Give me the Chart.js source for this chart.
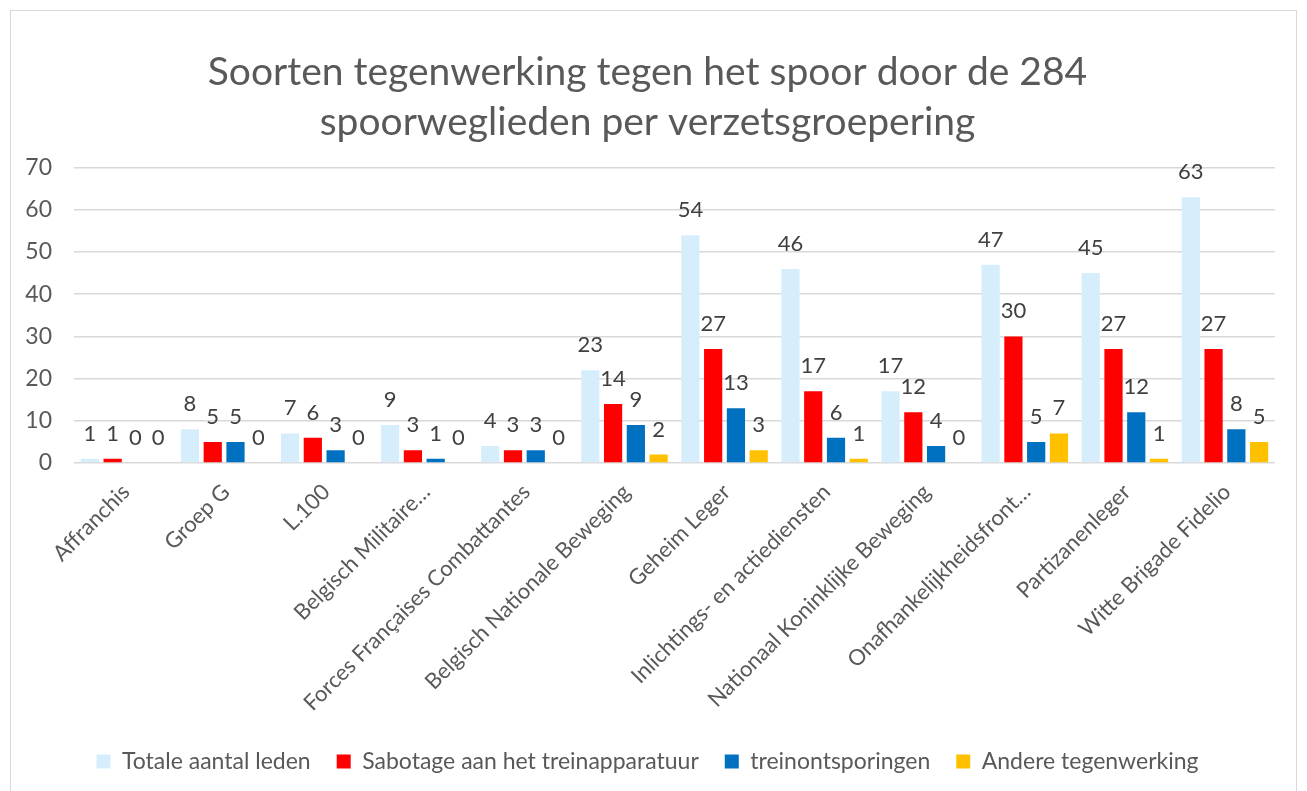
<!DOCTYPE html>
<html>
<head>
<meta charset="utf-8">
<script src="https://cdn.jsdelivr.net/npm/chart.js@4"></script>
<style>
  html, body { margin: 0; padding: 0; background: #fff; }
  #wrap { position: relative; width: 1307px; height: 791px; }
  #frame { position: absolute; left: 10px; top: 10px; width: 1287px; height: 800px; border: 1px solid #d9d9d9; box-sizing: border-box; pointer-events: none; }
</style>
</head>
<body>
<div id="wrap">
  <canvas id="chart" width="1307" height="791"></canvas>
  <div id="frame"></div>
</div>
<script>
const groups = ['Affranchis', 'Groep G', 'L.100', 'Belgisch Militaire…', 'Forces Françaises Combattantes',
    'Belgisch Nationale Beweging', 'Geheim Leger', 'Inlichtings- en actiediensten',
    'Nationaal Koninklijke Beweging', 'Onafhankelijkheidsfront…', 'Partizanenleger', 'Witte Brigade Fidelio'];

const totaal = [1, 8, 7, 9, 4, 22, 54, 46, 17, 47, 45, 63];
const totaalLabels = ['1', '8', '7', '9', '4', '23', '54', '46', '17', '47', '45', '63'];
const sabotage = [1, 5, 6, 3, 3, 14, 27, 17, 12, 30, 27, 27];
const ontsporingen = [0, 5, 3, 1, 3, 9, 13, 6, 4, 5, 12, 8];
const andere = [0, 0, 0, 0, 0, 2, 3, 1, 0, 7, 1, 5];

const yTicks = [0, 10, 20, 30, 40, 50, 60, 70];

const grey = '#595959';
const font = 'Lato, "Open Sans", sans-serif';

// values above bars, drawn at each bar's own position
const valueLabels = {
    id: 'valueLabels',
    afterDatasetsDraw(chart) {
        const c = chart.ctx;
        c.save();
        c.font = '22px ' + font;
        c.fillStyle = '#404040';
        c.textAlign = 'center';
        c.textBaseline = 'alphabetic';
        chart.data.datasets.forEach((ds, i) => {
            chart.getDatasetMeta(i).data.forEach((bar, j) => {
                const txt = ds.labelTexts ? ds.labelTexts[j] : String(ds.data[j]);
                c.fillText(txt, bar.x, bar.y - 18);
            });
        });
        c.restore();
    }
};

new Chart(document.getElementById('chart'), {
    type: 'bar',
    data: {
        labels: groups,
        datasets: [
            { label: 'Totale aantal leden', data: totaal, labelTexts: totaalLabels, backgroundColor: '#d6eefc' },
            { label: 'Sabotage aan het treinapparatuur', data: sabotage, backgroundColor: '#ff0000' },
            { label: 'treinontsporingen', data: ontsporingen, backgroundColor: '#0070c0' },
            { label: 'Andere tegenwerking', data: andere, backgroundColor: '#ffc000' }
        ]
    },
    plugins: [valueLabels],
    options: {
        responsive: false,
        animation: false,
        datasets: {
            bar: { categoryPercentage: 0.91, barPercentage: 0.8 }
        },
        layout: { padding: { top: 20, left: 20, right: 32, bottom: 8 } },
        scales: {
            x: {
                grid: { display: false },
                border: { display: false },
                ticks: {
                    color: grey,
                    font: { family: font, size: 22 },
                    minRotation: 45,
                    maxRotation: 45,
                    autoSkip: false,
                    labelOffset: 2,
                    padding: 8
                },
                afterFit(scale) { scale.height = 261; }
            },
            y: {
                min: 0,
                max: 70,
                afterBuildTicks(scale) { scale.ticks = yTicks.map(v => ({ value: v })); },
                grid: { color: '#d9d9d9', lineWidth: 1.5, drawTicks: false },
                border: { display: false },
                ticks: {
                    color: grey,
                    font: { family: font, size: 23 },
                    padding: 22
                },
                afterFit(scale) { scale.width = 54; }
            }
        },
        plugins: {
            title: {
                display: true,
                text: ['Soorten tegenwerking tegen het spoor door de 284', 'spoorweglieden per verzetsgroepering'],
                color: grey,
                font: { family: font, size: 39, weight: 'normal', lineHeight: 1.29 },
                padding: { top: 27, bottom: 20 }
            },
            legend: {
                position: 'bottom',
                labels: {
                    color: grey,
                    font: { family: font, size: 23 },
                    boxWidth: 14,
                    boxHeight: 14,
                    padding: 26
                }
            },
            tooltip: { enabled: false }
        }
    }
});
</script>
</body>
</html>
